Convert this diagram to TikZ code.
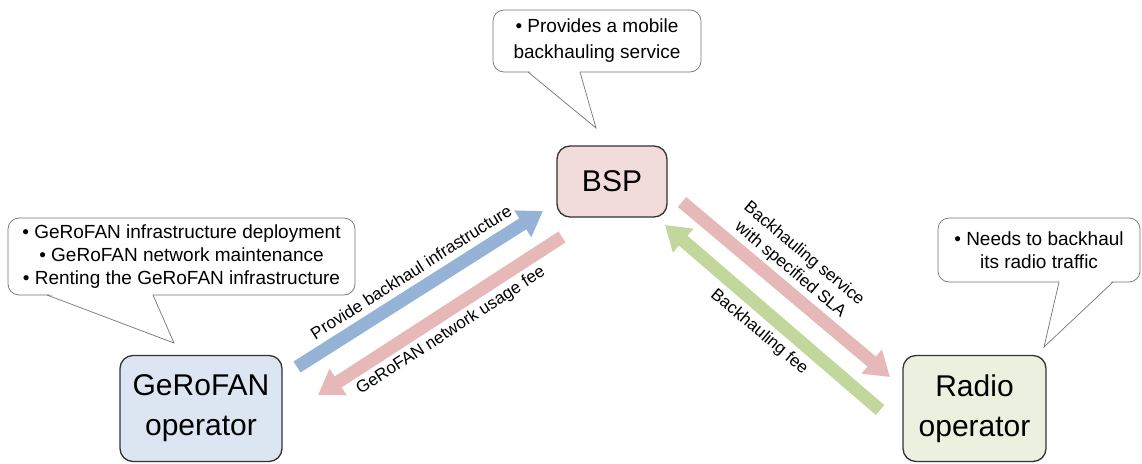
\documentclass[tikz,border=0pt]{standalone}
\usepackage{fontspec}
\setmainfont{Liberation Sans}
\usetikzlibrary{arrows.meta,calc}
\definecolor{bspfill}{HTML}{F2DCDB}
\definecolor{gerofill}{HTML}{DCE6F2}
\definecolor{radiofill}{HTML}{EBF1DE}
\definecolor{bluearr}{HTML}{95B3D7}
\definecolor{pinkarr}{HTML}{E6B9B8}
\definecolor{greenarr}{HTML}{C3D69B}
\begin{document}
\begin{tikzpicture}[x=1pt,y=-1pt,
 actor/.style={draw=black!80,line width=1.3pt,rounded corners=13pt,inner sep=0pt,align=center,font=\fontsize{30}{40}\selectfont},
 bubble/.style={draw=black!55,line width=0.7pt,rounded corners=11pt,fill=white,inner sep=0pt,align=center,font=\fontsize{19}{23}\selectfont},
 tail/.style={draw=black!55,line width=0.7pt},
 flow/.style={line width=13pt,-{Triangle[length=24pt,width=30pt]}},
 lbl/.style={inner sep=0pt,align=center,font=\fontsize{17}{21}\selectfont}]
 \useasboundingbox (0,0) rectangle (1142,463);
 % actors
 \node[actor,fill=bspfill,minimum width=110,minimum height=71] (bsp) at (612,181.5) {BSP};
 \node[actor,fill=gerofill,minimum width=162,minimum height=106] (gero) at (201,408.5) {GeRoFAN\\operator};
 \node[actor,fill=radiofill,minimum width=143,minimum height=106] (radio) at (974.5,408.5) {Radio\\operator};
 % bubbles
 \node[bubble,minimum width=208,minimum height=62,font=\fontsize{19}{26}\selectfont] (bspnote) at (597,41) {\textbullet\ Provides a mobile\\backhauling service};
 \node[bubble,minimum width=347,minimum height=77] (geronote) at (181.5,256.5) {\textbullet\ GeRoFAN infrastructure deployment\\\textbullet\ GeRoFAN network maintenance\\\textbullet\ Renting the GeRoFAN infrastructure};
 \node[bubble,minimum width=202,minimum height=64] (radionote) at (1039,250) {\textbullet\ Needs to backhaul\\its radio traffic};
 % bubble tails
 \coordinate (bspa) at (528,72);
 \coordinate (bspb) at (580,72);
 \coordinate (bsptip) at (596,128);
 \coordinate (geroa) at (47,295);
 \coordinate (gerob) at (153,295);
 \coordinate (gerotip) at (174,343);
 \coordinate (radioa) at (1059,282);
 \coordinate (radiob) at (1113,282);
 \coordinate (radiotip) at (1044,347);
 \foreach \n in {bsp,gero,radio}{
  \fill[white] ($(\n a)+(0.6,-1.5)$) -- (\n tip) -- ($(\n b)+(-0.6,-1.5)$) -- cycle;
  \draw[tail] (\n a) -- (\n tip) -- (\n b);
 }
 % flows
 \coordinate (infraA) at (297,367);
 \coordinate (infraB) at (543,211);
 \coordinate (usageA) at (562,237);
 \coordinate (usageB) at (318,395);
 \coordinate (slaA) at (682,202);
 \coordinate (slaB) at (890,377);
 \coordinate (feeA) at (880,410);
 \coordinate (feeB) at (665,225);
 \draw[flow,bluearr] (infraA) -- (infraB);
 \draw[flow,pinkarr] (usageA) -- (usageB);
 \draw[flow,pinkarr] (slaA) -- (slaB);
 \draw[flow,greenarr] (feeA) -- (feeB);
 % flow labels
 \node[lbl,rotate=32.5] (infralbl) at (411,272) {Provide backhaul infrastructure};
 \node[lbl,rotate=33] (usagelbl) at (451,331) {GeRoFAN network usage fee};
 \node[lbl,rotate=-40] (slalbl) at (797,262) {Backhauling service\\with specified SLA};
 \node[lbl,rotate=-40] (feelbl) at (759,332) {Backhauling fee};
\end{tikzpicture}
\end{document}
